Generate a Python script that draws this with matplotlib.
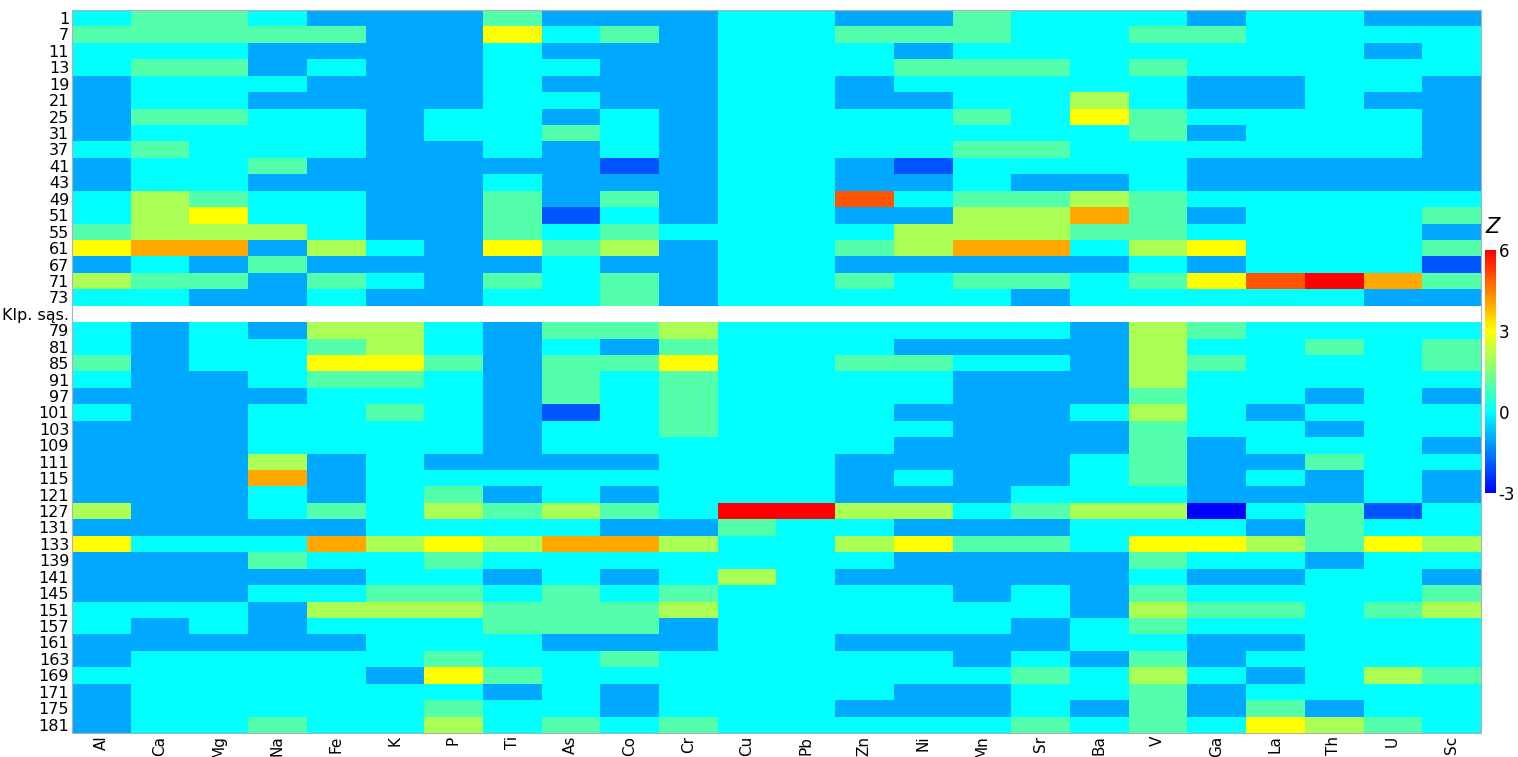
import numpy as np
import matplotlib
matplotlib.use("Agg")
from matplotlib import pyplot as plt
from matplotlib.colors import LinearSegmentedColormap

# element columns
elements = ["Al", "Ca", "Mg", "Na", "Fe", "K", "P", "Ti", "As", "Co", "Cr", "Cu",
            "Pb", "Zn", "Ni", "Mn", "Sr", "Ba", "V", "Ga", "La", "Th", "U", "Sc"]

# sample rows above the separator
top_samples = ["1", "7", "11", "13", "19", "21", "25", "31", "37", "41", "43", "49",
               "51", "55", "61", "67", "71", "73"]
top_z = [
    [0, 1, 1, 0, -1, -1, -1, 1, -1, -1, -1, 0, 0, -1, -1, 1, 0, 0, 0, -1, 0, 0, -1, -1],
    [1, 1, 1, 1, 1, -1, -1, 3, 0, 1, -1, 0, 0, 1, 1, 1, 0, 0, 1, 1, 0, 0, 0, 0],
    [0, 0, 0, -1, -1, -1, -1, 0, -1, -1, -1, 0, 0, 0, -1, 0, 0, 0, 0, 0, 0, 0, -1, 0],
    [0, 1, 1, -1, 0, -1, -1, 0, 0, -1, -1, 0, 0, 0, 1, 1, 1, 0, 1, 0, 0, 0, 0, 0],
    [-1, 0, 0, 0, -1, -1, -1, 0, -1, -1, -1, 0, 0, -1, 0, 0, 0, 0, 0, -1, -1, 0, 0, -1],
    [-1, 0, 0, -1, -1, -1, -1, 0, 0, -1, -1, 0, 0, -1, -1, 0, 0, 2, 0, -1, -1, 0, -1, -1],
    [-1, 1, 1, 0, 0, -1, 0, 0, -1, 0, -1, 0, 0, 0, 0, 1, 0, 3, 1, 0, 0, 0, 0, -1],
    [-1, 0, 0, 0, 0, -1, 0, 0, 1, 0, -1, 0, 0, 0, 0, 0, 0, 0, 1, -1, 0, 0, 0, -1],
    [0, 1, 0, 0, 0, -1, -1, 0, -1, 0, -1, 0, 0, 0, 0, 1, 1, 0, 0, 0, 0, 0, 0, -1],
    [-1, 0, 0, 1, -1, -1, -1, -1, -1, -2, -1, 0, 0, -1, -2, 0, 0, 0, 0, -1, -1, -1, -1, -1],
    [-1, 0, 0, -1, -1, -1, -1, 0, -1, -1, -1, 0, 0, -1, -1, 0, -1, -1, 0, -1, -1, -1, -1, -1],
    [0, 2, 1, 0, 0, -1, -1, 1, -1, 1, -1, 0, 0, 5, 0, 1, 1, 2, 1, 0, 0, 0, 0, 0],
    [0, 2, 3, 0, 0, -1, -1, 1, -2, 0, -1, 0, 0, -1, -1, 2, 2, 4, 1, -1, 0, 0, 0, 1],
    [1, 2, 2, 2, 0, -1, -1, 1, 0, 1, 0, 0, 0, 0, 2, 2, 2, 1, 1, 0, 0, 0, 0, -1],
    [3, 4, 4, -1, 2, 0, -1, 3, 1, 2, -1, 0, 0, 1, 2, 4, 4, 0, 2, 3, 0, 0, 0, 1],
    [-1, 0, -1, 1, -1, -1, -1, -1, 0, -1, -1, 0, 0, -1, -1, -1, -1, -1, 0, -1, 0, 0, 0, -2],
    [2, 1, 1, -1, 1, 0, -1, 1, 0, 1, -1, 0, 0, 1, 0, 1, 1, 0, 1, 3, 5, 6, 4, 1],
    [0, 0, -1, -1, 0, -1, -1, 0, 0, 1, -1, 0, 0, 0, 0, 0, -1, 0, 0, 0, 0, 0, -1, -1],
]

separator_label = "Klp. sąs."

# sample rows below the separator
bottom_samples = ["79", "81", "85", "91", "97", "101", "103", "109", "111", "115", "121",
                  "127", "131", "133", "139", "141", "145", "151", "157", "161", "163",
                  "169", "171", "175", "181"]
bottom_z = [
    [0, -1, 0, -1, 2, 2, 0, -1, 1, 1, 2, 0, 0, 0, 0, 0, 0, -1, 2, 1, 0, 0, 0, 0],
    [0, -1, 0, 0, 1, 2, 0, -1, 0, -1, 1, 0, 0, 0, -1, -1, -1, -1, 2, 0, 0, 1, 0, 1],
    [1, -1, 0, 0, 3, 3, 1, -1, 1, 1, 3, 0, 0, 1, 1, 0, 0, -1, 2, 1, 0, 0, 0, 1],
    [0, -1, -1, 0, 1, 1, 0, -1, 1, 0, 1, 0, 0, 0, 0, -1, -1, -1, 2, 0, 0, 0, 0, 0],
    [-1, -1, -1, -1, 0, 0, 0, -1, 1, 0, 1, 0, 0, 0, 0, -1, -1, -1, 1, 0, 0, -1, 0, -1],
    [0, -1, -1, 0, 0, 1, 0, -1, -2, 0, 1, 0, 0, 0, -1, -1, -1, 0, 2, 0, -1, 0, 0, 0],
    [-1, -1, -1, 0, 0, 0, 0, -1, 0, 0, 1, 0, 0, 0, 0, -1, -1, -1, 1, 0, 0, -1, 0, 0],
    [-1, -1, -1, 0, 0, 0, 0, -1, 0, 0, 0, 0, 0, 0, -1, -1, -1, -1, 1, -1, 0, 0, 0, -1],
    [-1, -1, -1, 2, -1, 0, -1, -1, -1, -1, 0, 0, 0, -1, -1, -1, -1, 0, 1, -1, -1, 1, 0, 0],
    [-1, -1, -1, 4, -1, 0, 0, 0, 0, 0, 0, 0, 0, -1, 0, -1, -1, 0, 1, -1, 0, -1, 0, -1],
    [-1, -1, -1, 0, -1, 0, 1, -1, 0, -1, 0, 0, 0, -1, -1, -1, 0, 0, 0, -1, -1, -1, 0, -1],
    [2, -1, -1, 0, 1, 0, 2, 1, 2, 1, 0, 6, 6, 2, 2, 0, 1, 2, 2, -3, 0, 1, -2, 0],
    [-1, -1, -1, -1, -1, 0, 0, 0, 0, -1, -1, 1, 0, 0, -1, -1, -1, 0, 0, 0, -1, 1, 0, 0],
    [3, 0, 0, 0, 4, 2, 3, 2, 4, 4, 2, 0, 0, 2, 3, 1, 1, 0, 3, 3, 2, 1, 3, 2],
    [-1, -1, -1, 1, 0, 0, 1, 0, 0, 0, 0, 0, 0, 0, -1, -1, -1, -1, 1, 0, 0, -1, 0, 0],
    [-1, -1, -1, -1, -1, 0, 0, -1, 0, -1, 0, 2, 0, -1, -1, -1, -1, -1, 0, -1, -1, 0, 0, -1],
    [-1, -1, -1, 0, 0, 1, 1, 0, 1, 0, 1, 0, 0, 0, 0, -1, 0, -1, 1, 0, 0, 0, 0, 1],
    [0, 0, 0, -1, 2, 2, 2, 1, 1, 1, 2, 0, 0, 0, 0, 0, 0, -1, 2, 1, 1, 0, 1, 2],
    [0, -1, 0, -1, 0, 0, 0, 1, 1, 1, -1, 0, 0, 0, 0, 0, -1, 0, 1, 0, 0, 0, 0, 0],
    [-1, -1, -1, -1, -1, 0, 0, 0, -1, -1, -1, 0, 0, -1, -1, -1, -1, 0, 0, -1, -1, 0, 0, 0],
    [-1, 0, 0, 0, 0, 0, 1, 0, 0, 1, 0, 0, 0, 0, 0, -1, 0, -1, 1, -1, 0, 0, 0, 0],
    [0, 0, 0, 0, 0, -1, 3, 1, 0, 0, 0, 0, 0, 0, 0, 0, 1, 0, 2, 0, -1, 0, 2, 1],
    [-1, 0, 0, 0, 0, 0, 0, -1, 0, -1, 0, 0, 0, 0, -1, -1, 0, 0, 1, -1, 0, 0, 0, 0],
    [-1, 0, 0, 0, 0, 0, 1, 0, 0, -1, 0, 0, 0, -1, -1, -1, 0, -1, 1, -1, 1, -1, 0, 0],
    [-1, 0, 0, 1, 0, 0, 2, 0, 1, 0, 1, 0, 0, 0, 0, 0, 1, 0, 1, 0, 3, 2, 1, 0],
]

# stack both blocks with an empty (white) row in between
row_labels = top_samples + [separator_label] + bottom_samples
z = np.vstack([np.array(top_z, dtype=float),
               np.full((1, len(elements)), np.nan),
               np.array(bottom_z, dtype=float)])

cmap = LinearSegmentedColormap.from_list(
    "zscore", [(0.0, "#0000ff"), (1/3, "#00ffff"), (2/3, "#ffff00"), (1.0, "#ff0000")])
cmap.set_bad("white")

plt.rcParams["font.family"] = ["Liberation Sans Narrow", "DejaVu Sans"]
plt.rcParams["axes.unicode_minus"] = False

fig = plt.figure(figsize=(15.18, 7.57), dpi=100)
ax = fig.add_axes([0.0474, 0.032, 0.928, 0.955])
im = ax.imshow(np.ma.masked_invalid(z), cmap=cmap, vmin=-3, vmax=6,
               aspect="auto", interpolation="nearest")

ax.set_yticks(range(len(row_labels)))
ax.set_yticklabels(row_labels, fontsize=11.5)
ax.set_xticks(range(len(elements)))
ax.set_xticklabels(elements, rotation=90, fontsize=11, family="DejaVu Sans")
ax.tick_params(length=0, pad=2)
for s in ax.spines.values():
    s.set_color("#b0b0b0")

# colour bar
cax = fig.add_axes([0.9785, 0.349, 0.0068, 0.321])
cb = fig.colorbar(im, cax=cax, ticks=[-3, 0, 3, 6])
cb.outline.set_visible(False)
cb.ax.tick_params(length=0, labelsize=12, pad=2)
cb.ax.set_yticklabels(["-3", "0", "3", "6"], family="DejaVu Sans")
cb.ax.set_title("Z", fontsize=15, style="italic", family="DejaVu Sans", pad=12, loc="left")

fig.savefig("out.png", dpi=100)
